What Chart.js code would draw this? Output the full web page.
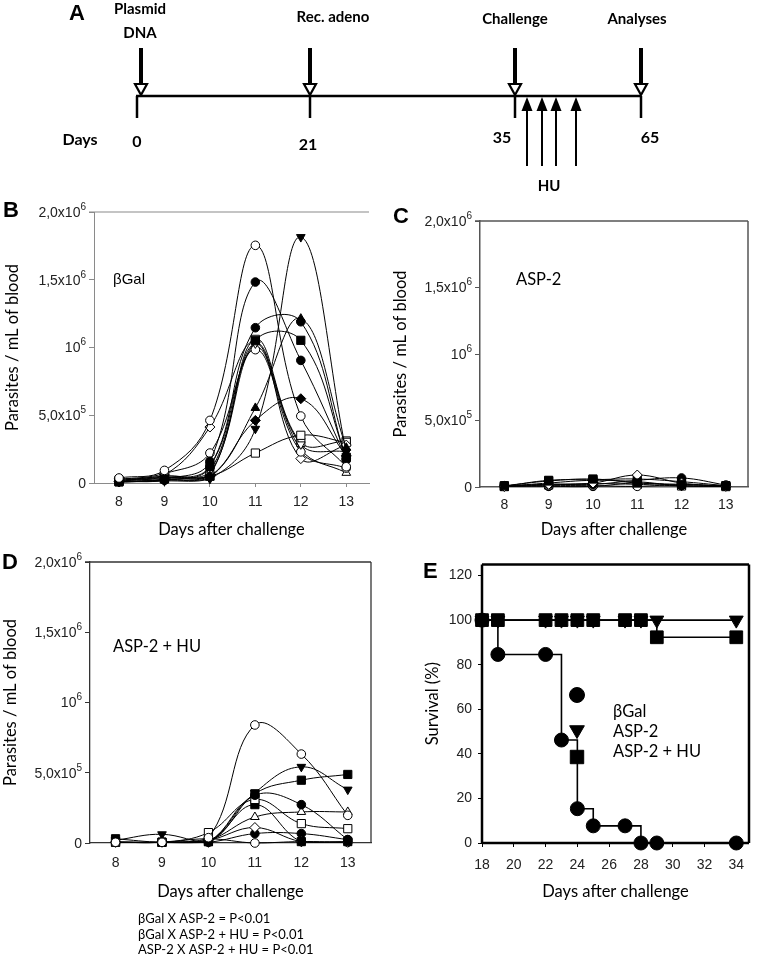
<!DOCTYPE html>
<html>
<head>
<meta charset="utf-8">
<script src="https://cdn.jsdelivr.net/npm/chart.js@4.4.1/dist/chart.umd.min.js"></script>
<style>
  html, body { margin: 0; padding: 0; background: #fff; }
  #fig { position: relative; width: 759px; height: 960px; overflow: hidden; }
  #fig canvas { position: absolute; }
</style>
</head>
<body>
<div id="fig">
  <canvas id="panelA" width="759" height="200" style="left:0;top:0;width:759px;height:200px"></canvas>
  <canvas id="panelB" width="380" height="370" style="left:0;top:180px;width:380px;height:370px"></canvas>
  <canvas id="panelC" width="379" height="370" style="left:380px;top:180px;width:379px;height:370px"></canvas>
  <canvas id="panelD" width="380" height="410" style="left:0;top:550px;width:380px;height:410px"></canvas>
  <canvas id="panelE" width="379" height="410" style="left:380px;top:550px;width:379px;height:410px"></canvas>
</div>
<script>
// ---- data ----
const timelineDays = [0, 21, 35, 65];
const timelineEvents = [['Plasmid', 'DNA'], ['Rec. adeno'], ['Challenge'], ['Analyses']];
const huDoses = ['HU', 'HU', 'HU', 'HU'];

const days = [8, 9, 10, 11, 12, 13];
const parasiteTicks = [0, 5e5, 1e6, 1.5e6, 2e6];
const parasiteTickText = ['0', '5,0x10^5', '10^6', '1,5x10^6', '2,0x10^6'];

// βGal mice (parasites / mL)
const gal1 = [37e3, 93e3, 462e3, 1754e3, 494e3, 120e3];
const gal2 = [10e3, 30e3, 160e3, 1483e3, 905e3, 180e3];
const gal3 = [8e3, 15e3, 30e3, 400e3, 1815e3, 230e3];
const gal4 = [5e3, 20e3, 40e3, 554e3, 1213e3, 260e3];
const gal5 = [10e3, 25e3, 50e3, 462e3, 622e3, 200e3];
const gal6 = [12e3, 20e3, 120e3, 1146e3, 1190e3, 170e3];
const gal7 = [8e3, 30e3, 123e3, 1050e3, 1053e3, 190e3];
const gal8 = [20e3, 50e3, 90e3, 1030e3, 285e3, 230e3];
const gal9 = [25e3, 70e3, 221e3, 984e3, 230e3, 110e3];
const gal10 = [30e3, 60e3, 413e3, 1040e3, 180e3, 280e3];
const gal11 = [10e3, 50e3, 50e3, 221e3, 352e3, 300e3];
const gal12 = [15e3, 35e3, 70e3, 1000e3, 250e3, 75e3];
const gal13 = [20e3, 40e3, 60e3, 1060e3, 300e3, 310e3];

// ASP-2 mice
const asp1 = [10e3, 45e3, 60e3, 30e3, 20e3, 8e3];
const asp2 = [5e3, 20e3, 30e3, 90e3, 30e3, 5e3];
const asp3 = [10e3, 20e3, 20e3, 50e3, 68e3, 15e3];
const asp4 = [5e3, 10e3, 10e3, 5e3, 18e3, 5e3];
const asp5 = [5e3, 30e3, 50e3, 40e3, 10e3, 10e3];
const asp6 = [8e3, 5e3, 5e3, 30e3, 10e3, 5e3];
const asp7 = [5e3, 50e3, 55e3, 60e3, 40e3, 10e3];
const asp8 = [3e3, 15e3, 25e3, 20e3, 8e3, 3e3];

// ASP-2 + HU mice
const hu1 = [5e3, 5e3, 38e3, 840e3, 633e3, 197e3];
const hu2 = [20e3, 62e3, 5e3, 357e3, 542e3, 380e3];
const hu3 = [30e3, 5e3, 10e3, 350e3, 447e3, 488e3];
const hu4 = [5e3, 5e3, 10e3, 340e3, 273e3, 24e3];
const hu5 = [5e3, 5e3, 74e3, 310e3, 138e3, 102e3];
const hu6 = [5e3, 5e3, 10e3, 273e3, 10e3, 10e3];
const hu7 = [5e3, 5e3, 20e3, 185e3, 221e3, 221e3];
const hu8 = [5e3, 5e3, 20e3, 110e3, 10e3, 5e3];
const hu9 = [5e3, 5e3, 5e3, 67e3, 67e3, 24e3];
const hu10 = [5e3, 5e3, 30e3, 0, 10e3, 5e3];

const pValues = ['βGal X ASP-2 = P<0.01', 'βGal X ASP-2 + HU = P<0.01', 'ASP-2 X ASP-2 + HU = P<0.01'];

// survival
const survivalDays = [18, 19, 22, 23, 24, 25, 27, 28, 29, 34];
const survivalGal = [100, 84.6, 84.6, 46.2, 15.4, 7.7, 7.7, 0, 0, 0];
const survivalAsp = [100, 100, 100, 100, 100, 100, 100, 100, 100, 100];
const survivalAspHu = [100, 100, 100, 100, 100, 100, 100, 100, 92.3, 92.3];
const survivalGroups = ['βGal', 'ASP-2', 'ASP-2 + HU'];
const survivalTicksX = [18, 20, 22, 24, 26, 28, 30, 32, 34];
const survivalTicksY = [0, 20, 40, 60, 80, 100, 120];

// ---- styles ----
const ARIAL = "'Liberation Sans', Arial, sans-serif";
const CAL = "Lato, 'Open Sans', sans-serif";
Chart.defaults.font.family = ARIAL;
Chart.defaults.color = '#222';

const markers = {
  openCircle: { style: 'circle', fill: '#fff', r: 4.3 },
  dotCircle: { style: 'circle', fill: '#000', r: 4.3 },
  openSquare: { style: 'rect', fill: '#fff', r: 5.8 },
  dotSquare: { style: 'rect', fill: '#000', r: 5.8 },
  openUp: { style: 'triangle', fill: '#fff', r: 5 },
  dotUp: { style: 'triangle', fill: '#000', r: 5 },
  openDown: { style: 'triangle', fill: '#fff', r: 5, rot: 180 },
  dotDown: { style: 'triangle', fill: '#000', r: 5, rot: 180 },
  openDiamond: { style: 'rectRot', fill: '#fff', r: 5 },
  dotDiamond: { style: 'rectRot', fill: '#000', r: 5 }
};

function mouseLine(values, kind) {
  const m = markers[kind];
  return {
    data: days.map((d, i) => ({ x: d, y: values[i] })),
    borderColor: '#000', borderWidth: 1, tension: 0.4, fill: false,
    pointStyle: m.style, pointRotation: m.rot || 0, pointRadius: m.r,
    pointBackgroundColor: m.fill, pointBorderColor: '#000', pointBorderWidth: 1,
    clip: false
  };
}

const line = (ctx, x1, y1, x2, y2) => { ctx.beginPath(); ctx.moveTo(x1, y1); ctx.lineTo(x2, y2); ctx.stroke(); };

// free text placed inside a panel
const panelText = {
  id: 'panelText',
  afterDraw(chart, args, opts) {
    const ctx = chart.ctx;
    (opts.items || []).forEach(it => {
      ctx.save();
      ctx.font = it.font;
      ctx.fillStyle = '#000';
      ctx.textAlign = it.align || 'left';
      ctx.textBaseline = 'middle';
      if (it.rotate) { ctx.translate(it.x, it.y); ctx.rotate(it.rotate); ctx.fillText(it.text, 0, 0); }
      else ctx.fillText(it.text, it.x, it.y);
      ctx.restore();
    });
  }
};

// box lines around chart area
const frame = {
  id: 'frame',
  beforeDatasetsDraw(chart, args, opts) {
    const { ctx, chartArea: a } = chart;
    ctx.save();
    ctx.strokeStyle = opts.color; ctx.lineWidth = opts.width;
    const s = opts.sides;
    if (s.includes('t')) line(ctx, a.left - (opts.ext || 0), a.top, a.right, a.top);
    if (s.includes('r')) line(ctx, a.right, a.top, a.right, a.bottom);
    if (s.includes('b')) line(ctx, a.left, a.bottom, a.right, a.bottom);
    if (s.includes('l')) line(ctx, a.left, a.top, a.left, a.bottom);
    ctx.restore();
  }
};

// y labels like 2,0x10^6 with a raised exponent
const sciTicks = {
  id: 'sciTicks',
  afterDraw(chart, args, opts) {
    const { ctx, chartArea } = chart;
    const ys = chart.scales.y;
    ctx.save();
    ctx.fillStyle = '#222';
    ctx.textBaseline = 'middle';
    ctx.textAlign = 'left';
    parasiteTicks.forEach((v, i) => {
      const [base, exp] = parasiteTickText[i].split('^');
      const py = ys.getPixelForValue(v);
      ctx.font = '10px ' + ARIAL;
      const we = exp ? ctx.measureText(exp).width : 0;
      ctx.font = '14px ' + ARIAL;
      const wb = ctx.measureText(base).width;
      const right = chartArea.left - opts.gap;
      ctx.fillText(base, right - we - wb, py + 1);
      if (exp) { ctx.font = '10px ' + ARIAL; ctx.fillText(exp, right - we, py - 5); }
    });
    ctx.restore();
  }
};

function parasiteChart(id, series, o) {
  return new Chart(document.getElementById(id), {
    type: 'line',
    data: { datasets: series },
    options: {
      responsive: false, animation: false, events: [],
      layout: { padding: { left: 0, top: o.top, right: o.right, bottom: o.bottom } },
      scales: {
        x: {
          type: 'linear', min: 7.45, max: 13.5,
          afterFit: s => { s.height = 60; },
          afterBuildTicks: s => { s.ticks = days.map(v => ({ value: v })); },
          grid: { display: true, drawOnChartArea: false, tickLength: 4, color: o.axisColor },
          border: { display: true, color: o.axisColor, width: o.axisWidth },
          ticks: { font: { size: 14 }, padding: o.xTickPad, color: '#222' },
          title: { display: true, text: 'Days after challenge', font: { family: CAL, size: 16.5 }, color: '#000', padding: { top: 0, bottom: o.xTitlePad } }
        },
        y: {
          min: 0, max: 2e6,
          afterFit: s => { s.width = o.axisW; },
          afterBuildTicks: s => { s.ticks = parasiteTicks.map(v => ({ value: v })); },
          grid: { display: true, drawOnChartArea: false, tickLength: 5, color: o.axisColor },
          border: { display: true, color: o.axisColor, width: o.axisWidth },
          ticks: { display: false },
          title: { display: true, text: 'Parasites / mL of blood', font: { family: CAL, size: 16.5 }, color: '#000', padding: { top: o.yTitlePad, bottom: 0 } }
        }
      },
      plugins: {
        legend: { display: false }, tooltip: { enabled: false },
        frame: o.frame,
        sciTicks: { gap: 8 },
        panelText: { items: o.texts }
      }
    },
    plugins: [frame, sciTicks, panelText]
  });
}

// ---- panel A: timeline ----
const lineY = 96;
const eventX = [139, 310, 515, 641];
const eventLabelY = [[9, 33], [17], [19], [19]];
const dayLabelPos = [[137, 142], [308, 145], [502, 138], [650, 138]];
const huX = [527, 542, 556, 576];

new Chart(document.getElementById('panelA'), {
  type: 'scatter',
  data: { datasets: [] },
  options: {
    responsive: false, animation: false, events: [],
    scales: { x: { display: false }, y: { display: false } },
    plugins: { legend: { display: false }, tooltip: { enabled: false } }
  },
  plugins: [{
    id: 'timeline',
    afterDraw(chart) {
      const ctx = chart.ctx;
      ctx.save();
      ctx.strokeStyle = '#000'; ctx.fillStyle = '#000';
      ctx.lineWidth = 2.5;
      line(ctx, eventX[0] - 3, lineY, eventX[eventX.length - 1], lineY);
      ctx.textAlign = 'center'; ctx.textBaseline = 'middle';
      timelineDays.forEach((d, i) => {
        const x = eventX[i];
        ctx.lineWidth = 2.5;
        line(ctx, x - (i === 0 ? 2 : 0), lineY, x - (i === 0 ? 2 : 0), lineY + 22);
        ctx.lineWidth = 4;
        line(ctx, x + (i === 0 ? 2 : 0), 48, x + (i === 0 ? 2 : 0), 85);
        const hx = x + (i === 0 ? 2 : 0);
        ctx.beginPath();
        ctx.moveTo(hx - 6, 84); ctx.lineTo(hx + 6, 84); ctx.lineTo(hx, 95); ctx.closePath();
        ctx.fillStyle = '#fff'; ctx.fill();
        ctx.lineWidth = 2.2; ctx.stroke();
        ctx.fillStyle = '#000';
        ctx.font = 'bold 15px ' + CAL;
        timelineEvents[i].forEach((t, k) => ctx.fillText(t, [140, 333, 515, 637][i], eventLabelY[i][k]));
        ctx.font = 'bold 16px ' + CAL;
        ctx.fillText(String(d), dayLabelPos[i][0], dayLabelPos[i][1]);
      });
      ctx.font = 'bold 16px ' + CAL;
      ctx.fillText('Days', 80, 140);
      ctx.font = 'bold 22px ' + ARIAL;
      ctx.fillText('A', 77, 14);
      huX.forEach(x => {
        ctx.lineWidth = 2;
        line(ctx, x, 166, x, 108);
        ctx.beginPath();
        ctx.moveTo(x - 5.5, 111); ctx.lineTo(x + 5.5, 111); ctx.lineTo(x, 97); ctx.closePath();
        ctx.fill();
      });
      ctx.font = 'bold 15px ' + CAL;
      ctx.fillText(huDoses[0], 549, 186);
      ctx.restore();
    }
  }]
});

// ---- panel B ----
parasiteChart('panelB', [
  mouseLine(gal1, 'openCircle'), mouseLine(gal2, 'dotCircle'), mouseLine(gal3, 'dotDown'),
  mouseLine(gal4, 'dotUp'), mouseLine(gal5, 'dotDiamond'), mouseLine(gal6, 'dotCircle'),
  mouseLine(gal7, 'dotSquare'), mouseLine(gal8, 'openDown'), mouseLine(gal9, 'openCircle'),
  mouseLine(gal10, 'openDiamond'), mouseLine(gal11, 'openSquare'), mouseLine(gal12, 'openUp'),
  mouseLine(gal13, 'openSquare')
], {
  top: 32, right: 11, bottom: 7, axisW: 94, axisColor: '#8a8a8a', axisWidth: 1,
  xTickPad: 6.6, xTitlePad: 3.4, yTitlePad: 2.4,
  frame: { sides: 't', color: '#8a8a8a', width: 1.2, ext: 5 },
  texts: [
    { text: 'B', x: 3, y: 31, font: 'bold 22px ' + ARIAL },
    { text: 'βGal', x: 113, y: 100, font: '15px ' + ARIAL }
  ]
});

// ---- panel C ----
parasiteChart('panelC', [
  mouseLine(asp1, 'dotSquare'), mouseLine(asp2, 'openDiamond'), mouseLine(asp3, 'dotCircle'),
  mouseLine(asp4, 'openCircle'), mouseLine(asp5, 'dotDown'), mouseLine(asp6, 'dotCircle'),
  mouseLine(asp7, 'dotSquare'), mouseLine(asp8, 'openSquare')
], {
  top: 41, right: 11, bottom: 3, axisW: 100, axisColor: '#555', axisWidth: 1.5,
  xTickPad: 5.6, xTitlePad: 7.4, yTitlePad: 10.4,
  frame: { sides: 'tr', color: '#555', width: 1.5, ext: 5 },
  texts: [
    { text: 'C', x: 13, y: 37, font: 'bold 22px ' + ARIAL },
    { text: 'ASP-2', x: 136, y: 100, font: '16.5px ' + CAL }
  ]
});

// ---- panel D ----
parasiteChart('panelD', [
  mouseLine(hu1, 'openCircle'), mouseLine(hu2, 'dotDown'), mouseLine(hu3, 'dotSquare'),
  mouseLine(hu4, 'dotCircle'), mouseLine(hu5, 'openSquare'), mouseLine(hu6, 'dotSquare'),
  mouseLine(hu7, 'openUp'), mouseLine(hu8, 'openDiamond'), mouseLine(hu9, 'dotCircle'),
  mouseLine(hu10, 'openCircle')
], {
  top: 12, right: 9, bottom: 57, axisW: 90, axisColor: '#333', axisWidth: 1.3,
  xTickPad: 7.6, xTitlePad: 1.4, yTitlePad: 0.4,
  frame: { sides: 'tr', color: '#333', width: 1.3, ext: 5 },
  texts: [
    { text: 'D', x: 2, y: 13, font: 'bold 22px ' + ARIAL },
    { text: 'ASP-2 + HU', x: 113, y: 97, font: '16.5px ' + CAL },
    { text: pValues[0], x: 138, y: 369, font: '13px ' + CAL },
    { text: pValues[1], x: 138, y: 385, font: '13px ' + CAL },
    { text: pValues[2], x: 138, y: 400, font: '13px ' + CAL }
  ]
});

// ---- panel E: survival ----
function survivalLine(values, kind, r) {
  const m = markers[kind];
  return {
    data: survivalDays.map((d, i) => ({ x: d, y: values[i] })),
    stepped: 'before', borderColor: '#000', borderWidth: 1.6, fill: false,
    pointStyle: m.style, pointRotation: m.rot || 0, pointRadius: r,
    pointBackgroundColor: '#000', pointBorderColor: '#000', pointBorderWidth: 1,
    clip: false
  };
}

const survLegend = {
  id: 'survLegend',
  afterDraw(chart) {
    const ctx = chart.ctx;
    const order = [2, 1, 0];
    const markerY = [145, 180, 207];
    const textY = [162, 182, 202];
    ctx.save();
    order.forEach((di, k) => {
      const ds = chart.data.datasets[di];
      ctx.fillStyle = '#000'; ctx.strokeStyle = '#000'; ctx.lineWidth = 1;
      Chart.helpers.drawPoint(ctx, { pointStyle: ds.pointStyle, rotation: ds.pointRotation, radius: ds.pointRadius + 0.5, borderWidth: 1 }, 197, markerY[k]);
      ctx.font = '16.5px ' + CAL; ctx.textBaseline = 'middle'; ctx.textAlign = 'left';
      ctx.fillText(survivalGroups[k], 233, textY[k]);
    });
    ctx.restore();
  }
};

new Chart(document.getElementById('panelE'), {
  type: 'line',
  data: {
    datasets: [
      survivalLine(survivalAspHu, 'dotSquare', 9),
      survivalLine(survivalAsp, 'dotDown', 8),
      survivalLine(survivalGal, 'dotCircle', 7)
    ]
  },
  options: {
    responsive: false, animation: false, events: [],
    layout: { padding: { left: 0, top: 13, right: 8, bottom: 57 } },
    scales: {
      x: {
        type: 'linear', min: 18, max: 34.8,
        afterFit: s => { s.height = 60; },
        afterBuildTicks: s => { s.ticks = survivalTicksX.map(v => ({ value: v })); },
        grid: { display: true, drawOnChartArea: false, tickLength: 4, color: '#000' },
        border: { display: false },
        ticks: { font: { size: 14 }, padding: 9.6, color: '#222' },
        title: { display: true, text: 'Days after challenge', font: { family: CAL, size: 16.5 }, color: '#000', padding: { top: 0, bottom: 1.4 } }
      },
      y: {
        min: 0, max: 125,
        afterFit: s => { s.width = 102; },
        afterBuildTicks: s => { s.ticks = survivalTicksY.map(v => ({ value: v })); },
        grid: { display: true, drawOnChartArea: false, tickLength: 4, color: '#000' },
        border: { display: false },
        ticks: { font: { size: 14 }, padding: 6, color: '#222' },
        title: { display: true, text: 'Survival (%)', font: { family: CAL, size: 16.5 }, color: '#000', padding: { top: 42.4, bottom: 0 } }
      }
    },
    plugins: {
      legend: { display: false }, tooltip: { enabled: false },
      frame: { sides: 'trbl', color: '#000', width: 2.5 },
      panelText: { items: [{ text: 'E', x: 43, y: 22, font: 'bold 22px ' + ARIAL }] }
    }
  },
  plugins: [frame, survLegend, panelText]
});
</script>
</body>
</html>
